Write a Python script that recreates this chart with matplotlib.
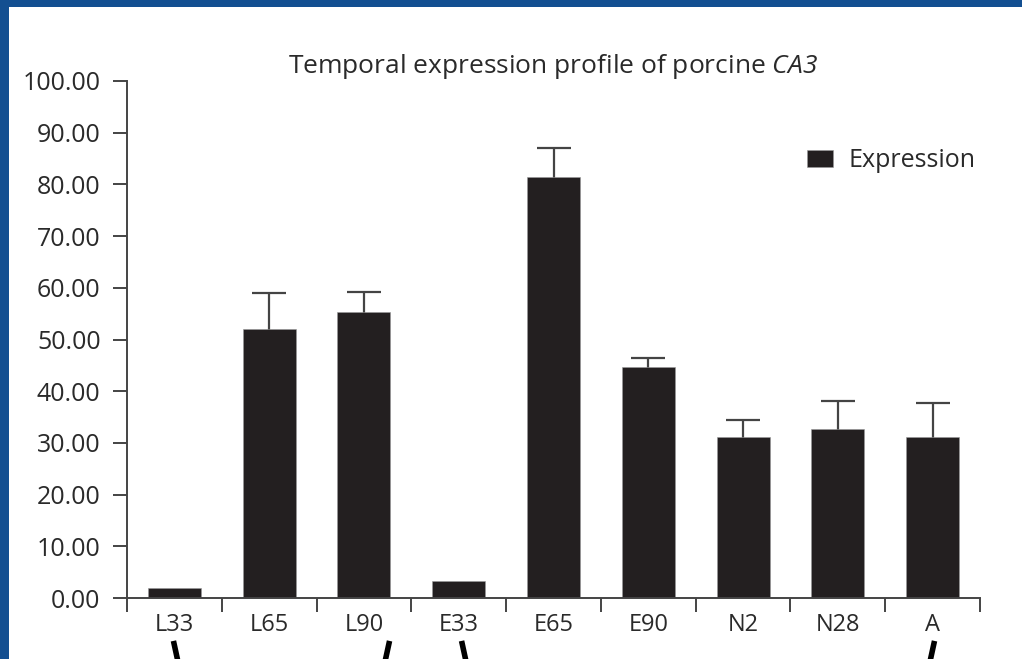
import numpy as np
import matplotlib.pyplot as plt
from matplotlib.patches import Rectangle

plt.rcParams['font.family'] = ['Open Sans', 'DejaVu Sans']
plt.rcParams['mathtext.fontset'] = 'custom'
plt.rcParams['mathtext.it'] = 'Open Sans:italic'
plt.rcParams['mathtext.rm'] = 'Open Sans:italic'

stages = ['L33', 'L65', 'L90', 'E33', 'E65', 'E90', 'N2', 'N28', 'A']
expression = [1.9, 52.0, 55.3, 3.3, 81.4, 44.7, 31.1, 32.7, 31.1]
error_up = [0.0, 7.0, 3.9, 0.0, 5.6, 1.7, 3.3, 5.4, 6.6]
yticks = [0, 10, 20, 30, 40, 50, 60, 70, 80, 90, 100]

# bracket ends drawn below the axis (slide decoration), in category units
brackets = [(0.01, 2.25), (3.05, 8.0)]

fig = plt.figure(figsize=(10.22, 6.59), dpi=100)
fig.patch.set_facecolor('#134f91')
panel = Rectangle((9 / 1022, 0), 1, 652 / 659, transform=fig.transFigure,
                  facecolor='white', edgecolor='none', zorder=-5)
fig.add_artist(panel)

ax = fig.add_axes([127 / 1022, 61 / 659, 853 / 1022, 517 / 659])
ax.set_facecolor('none')
ax.set_zorder(2)

x = np.arange(len(stages))
ax.bar(x, expression, width=0.56, color='#231f20', edgecolor='#9a9a9a', linewidth=0.4,
       label='Expression', zorder=2)

# symmetric bars; the lower half is hidden behind the bar itself
err = np.array(error_up)
vals = np.array(expression)
m = err > 0
ax.errorbar(x[m], vals[m], yerr=err[m], fmt='none',
            ecolor='#444444', elinewidth=1.6, capsize=12, capthick=1.6, zorder=1)

ax.set_xlim(-0.5, len(stages) - 0.5)
ax.set_ylim(0, 100)
ax.set_yticks(yticks)
ax.set_yticklabels([f'{v:.2f}' for v in yticks])
ax.set_xticks(x)
ax.set_xticklabels(stages)
ax.set_xticks(np.arange(len(stages) + 1) - 0.5, minor=True)

for s in ['top', 'right']:
    ax.spines[s].set_visible(False)
for s in ['left', 'bottom']:
    ax.spines[s].set_color('#444444')
    ax.spines[s].set_linewidth(1.4)

ax.tick_params(axis='y', direction='out', length=10, width=1.4, color='#444444',
               labelsize=18, labelcolor='#2a2a2a', pad=9)
ax.tick_params(axis='x', which='major', length=0, labelsize=17, labelcolor='#2a2a2a', pad=11)
ax.tick_params(axis='x', which='minor', direction='out', length=10, width=1.4, color='#444444')

ax.set_title(r'Temporal expression profile of porcine $\mathit{CA3}$', fontsize=19,
             color='#2a2a2a', pad=4)

ax.legend(loc='center left', bbox_to_anchor=(807 / 1022, 498 / 659),
          bbox_transform=fig.transFigure, frameon=False, fontsize=18,
          handlelength=1.04, handleheight=0.68, handletextpad=0.6,
          borderpad=0, borderaxespad=0, labelcolor='#2a2a2a')

for a, b in brackets:
    ax.plot([a - 0.02, a + 0.03], [-8.3, -12.5], color='black', lw=4, clip_on=False,
            solid_capstyle='butt')
    ax.plot([b + 0.02, b - 0.03], [-8.3, -12.5], color='black', lw=4, clip_on=False,
            solid_capstyle='butt')

fig.savefig('out.png', dpi=100, facecolor=fig.get_facecolor())
